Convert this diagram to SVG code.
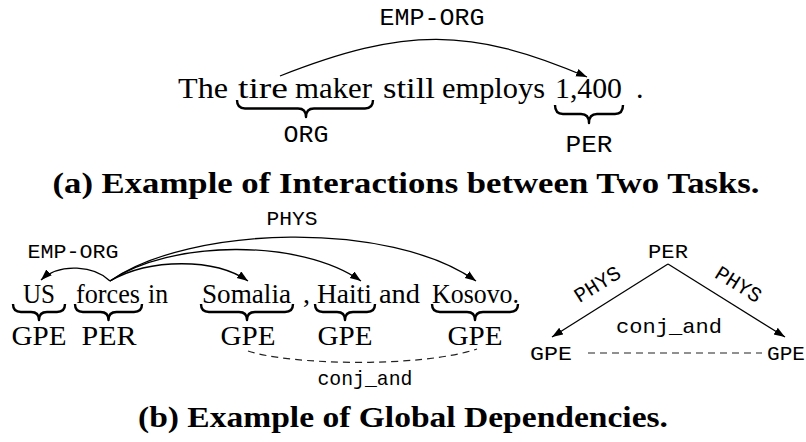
<svg xmlns="http://www.w3.org/2000/svg" width="806" height="442" viewBox="0 0 806 442">
  <defs>
    <marker id="tip" markerUnits="userSpaceOnUse" markerWidth="12" markerHeight="9" refX="11" refY="4" orient="auto">
      <path d="M0,0 L11,4 L0,8 z" fill="#000"/>
    </marker>
    <style>
      .word { font-family: "Liberation Serif", "Times New Roman", serif; font-size: 30px; fill: #000; }
      .wordb { font-family: "Liberation Serif", "Times New Roman", serif; font-size: 28px; fill: #000; }
      .tag { font-family: "Liberation Mono", "Courier New", monospace; font-size: 24px; fill: #000; }
      .tagb { font-family: "Liberation Mono", "Courier New", monospace; font-size: 21px; fill: #000; }
      .cap { font-family: "Liberation Serif", "Times New Roman", serif; font-size: 29px; font-weight: bold; fill: #000; }
      .brace { fill: none; stroke: #000; stroke-width: 2.4; stroke-linejoin: round; }
      .arc { fill: none; stroke: #000; stroke-width: 1.3; marker-end: url(#tip); }
      .dash { fill: none; stroke: #222; stroke-width: 1.2; stroke-dasharray: 7 5; }
    </style>
  </defs>

  <!-- (a) sentence with two entity mentions -->
  <g id="sentence-a">
    <text class="word" x="178" y="98" textLength="50" lengthAdjust="spacingAndGlyphs">The</text>
    <text class="word" x="238" y="98" textLength="50" lengthAdjust="spacingAndGlyphs">tire</text>
    <text class="word" x="295" y="98" textLength="77" lengthAdjust="spacingAndGlyphs">maker</text>
    <text class="word" x="383" y="98" textLength="52" lengthAdjust="spacingAndGlyphs">still</text>
    <text class="word" x="442" y="98" textLength="103" lengthAdjust="spacingAndGlyphs">employs</text>
    <text class="word" x="555" y="98" textLength="67" lengthAdjust="spacingAndGlyphs">1,400</text>
    <text class="word" x="636" y="98">.</text>
  </g>
  <g id="ent-a-org">
    <path class="brace" d="M237,100 Q237,108.5 245,108.5 L298,108.5 Q306,108.5 306,117 Q306,108.5 314,108.5 L365,108.5 Q373,108.5 373,100"/>
    <text class="tag" x="306" y="142" text-anchor="middle" textLength="45" lengthAdjust="spacingAndGlyphs">ORG</text>
  </g>
  <g id="ent-a-per">
    <path class="brace" d="M555,105 Q555,114 563,114 L581,114 Q589,114 589,123 Q589,114 597,114 L615,114 Q623,114 623,105"/>
    <text class="tag" x="589" y="152" text-anchor="middle" textLength="47" lengthAdjust="spacingAndGlyphs">PER</text>
  </g>
  <g id="rel-a">
    <text class="tag" x="432" y="25" text-anchor="middle" textLength="105" lengthAdjust="spacingAndGlyphs">EMP-ORG</text>
  </g>

  <text class="cap" x="406" y="193" text-anchor="middle" textLength="707" lengthAdjust="spacingAndGlyphs">(a) Example of Interactions between Two Tasks.</text>

  <!-- (b) sentence with several mentions -->
  <g id="sentence-b">
    <text class="wordb" x="23" y="303" textLength="32" lengthAdjust="spacingAndGlyphs">US</text>
    <text class="wordb" x="76" y="303" textLength="64" lengthAdjust="spacingAndGlyphs">forces</text>
    <text class="wordb" x="148" y="303" textLength="20" lengthAdjust="spacingAndGlyphs">in</text>
    <text class="wordb" x="202" y="303" textLength="89" lengthAdjust="spacingAndGlyphs">Somalia</text>
    <text class="wordb" x="303" y="303">,</text>
    <text class="wordb" x="317" y="303" textLength="55" lengthAdjust="spacingAndGlyphs">Haiti</text>
    <text class="wordb" x="379" y="303" textLength="41" lengthAdjust="spacingAndGlyphs">and</text>
    <text class="wordb" x="432" y="303" textLength="87" lengthAdjust="spacingAndGlyphs">Kosovo.</text>
  </g>
  <g id="ent-b-us">
    <path class="brace" d="M13,304 Q13,312 21,312 L31,312 Q39,312 39,320 Q39,312 47,312 L57,312 Q65,312 65,304"/>
    <text class="wordb" x="39" y="345" text-anchor="middle" textLength="55" lengthAdjust="spacingAndGlyphs">GPE</text>
  </g>
  <g id="ent-b-forces">
    <path class="brace" d="M75,304 Q75,312 83,312 L100.5,312 Q108.5,312 108.5,320 Q108.5,312 116.5,312 L134,312 Q142,312 142,304"/>
    <text class="wordb" x="109" y="345" text-anchor="middle" textLength="55" lengthAdjust="spacingAndGlyphs">PER</text>
  </g>
  <g id="ent-b-somalia">
    <path class="brace" d="M201,304 Q201,312 209,312 L239,312 Q247,312 247,320 Q247,312 255,312 L285,312 Q293,312 293,304"/>
    <text class="wordb" x="248" y="345" text-anchor="middle" textLength="55" lengthAdjust="spacingAndGlyphs">GPE</text>
  </g>
  <g id="ent-b-haiti">
    <path class="brace" d="M315,304 Q315,312 323,312 L337,312 Q345,312 345,320 Q345,312 353,312 L367,312 Q375,312 375,304"/>
    <text class="wordb" x="345" y="345" text-anchor="middle" textLength="55" lengthAdjust="spacingAndGlyphs">GPE</text>
  </g>
  <g id="ent-b-kosovo">
    <path class="brace" d="M432,304 Q432,312 440,312 L467,312 Q475,312 475,320 Q475,312 483,312 L510,312 Q518,312 518,304"/>
    <text class="wordb" x="475" y="345" text-anchor="middle" textLength="55" lengthAdjust="spacingAndGlyphs">GPE</text>
  </g>
  <g id="rel-b-labels">
    <text class="tagb" x="73" y="258" text-anchor="middle" textLength="91" lengthAdjust="spacingAndGlyphs">EMP-ORG</text>
    <text class="tagb" x="292" y="225" text-anchor="middle" textLength="51" lengthAdjust="spacingAndGlyphs">PHYS</text>
    <text class="tagb" x="365" y="385" text-anchor="middle" textLength="95" lengthAdjust="spacingAndGlyphs">conj_and</text>
  </g>

  <!-- (b) right: relation triangle -->
  <g id="node-per">
    <text class="tagb" x="668" y="258" text-anchor="middle" textLength="40" lengthAdjust="spacingAndGlyphs">PER</text>
  </g>
  <g id="node-gpe-left">
    <text class="tagb" x="551" y="360" text-anchor="middle" textLength="42" lengthAdjust="spacingAndGlyphs">GPE</text>
  </g>
  <g id="node-gpe-right">
    <text class="tagb" x="786" y="360" text-anchor="middle" textLength="38" lengthAdjust="spacingAndGlyphs">GPE</text>
  </g>

  <g id="connectors">
    <path class="arc" d="M280,76 C405,27 470,27 587,77"/>
    <path class="arc" d="M110,281 C95,266 60,262 41,280"/>
    <path class="arc" d="M110,281 C150,258 215,258 248,281"/>
    <path class="arc" d="M110,281 C170,240 300,238 361,281"/>
    <path class="arc" d="M110,281 C190,225 390,220 476,281"/>
    <path class="dash" d="M248,351 C290,365 420,368 477,349"/>
    <path class="arc" d="M668,264 L552,337"/>
    <path class="arc" d="M668,264 L785,337"/>
    <path class="dash" d="M588,353 L762,353"/>
    <text class="tagb" x="601" y="290" text-anchor="middle" transform="rotate(-32 601 290)">PHYS</text>
    <text class="tagb" x="735" y="290" text-anchor="middle" transform="rotate(32 735 290)">PHYS</text>
    <text class="tagb" x="669" y="333" text-anchor="middle" textLength="106" lengthAdjust="spacingAndGlyphs">conj_and</text>
  </g>

  <text class="cap" x="403" y="427" text-anchor="middle" textLength="530" lengthAdjust="spacingAndGlyphs">(b) Example of Global Dependencies.</text>
</svg>
